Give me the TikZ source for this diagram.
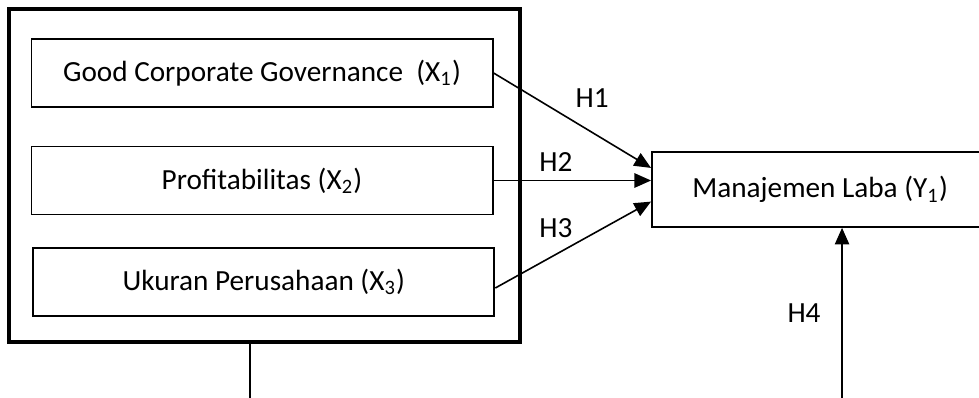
\documentclass[tikz,border=0pt]{standalone}
\usepackage{fontspec}
\setmainfont{Carlito}
\usetikzlibrary{arrows.meta,calc}

\begin{document}
\begin{tikzpicture}[
    box/.style = {shape=rectangle, draw, line width=0.7pt, align=center,
      minimum width=6.1cm, minimum height=0.9cm, inner sep=0pt},
    panah/.style = {-{Triangle[length=2.2mm,width=1.9mm]}, line width=0.6pt},
    every node/.append style = {font=\fontsize{11}{13}\selectfont}]
  \useasboundingbox (0,0) rectangle (12.951,5.265);
  % kelompok variabel independen
  \node[draw, line width=1.6pt, minimum width=6.76cm, minimum height=4.405cm,
    inner sep=0pt] (grup) at (3.499,2.944) {};
  \node[box] (gcg) at (3.466,4.30) {Good Corporate Governance\ \ (X\textsubscript{1})};
  \node[box] (prof) at (3.466,2.877) {Profitabilitas (X\textsubscript{2})};
  \node[box] (ukuran) at (3.49,1.535) {Ukuran Perusahaan (X\textsubscript{3})};
  % variabel dependen
  \node[draw, line width=0.7pt, minimum width=4.45cm, minimum height=0.99cm,
    inner sep=0pt] (laba) at (10.85,2.758) {Manajemen Laba (Y\textsubscript{1})};
  % hipotesis
  \draw[panah] (gcg.east) -- ($(laba.west)+(0,0.285)$);
  \draw[panah] (prof.east) -- (prof.east -| laba.west);
  \draw[panah] ($(ukuran.east)+(0,-0.08)$) -- ($(laba.west)+(0,-0.16)$);
  \coordinate (bawahH4) at (11.139,0);
  \draw[panah] (bawahH4) -- (bawahH4 |- laba.south);
  \coordinate (bawahX) at (3.307,0);
  \draw[line width=0.6pt] (bawahX |- grup.south) -- (bawahX);
  \node (h1) at (7.832,3.969) {H1};
  \node (h2) at (7.355,3.122) {H2};
  \node (h3) at (7.355,2.249) {H3};
  \node (h4) at (10.636,1.124) {H4};
\end{tikzpicture}
\end{document}
